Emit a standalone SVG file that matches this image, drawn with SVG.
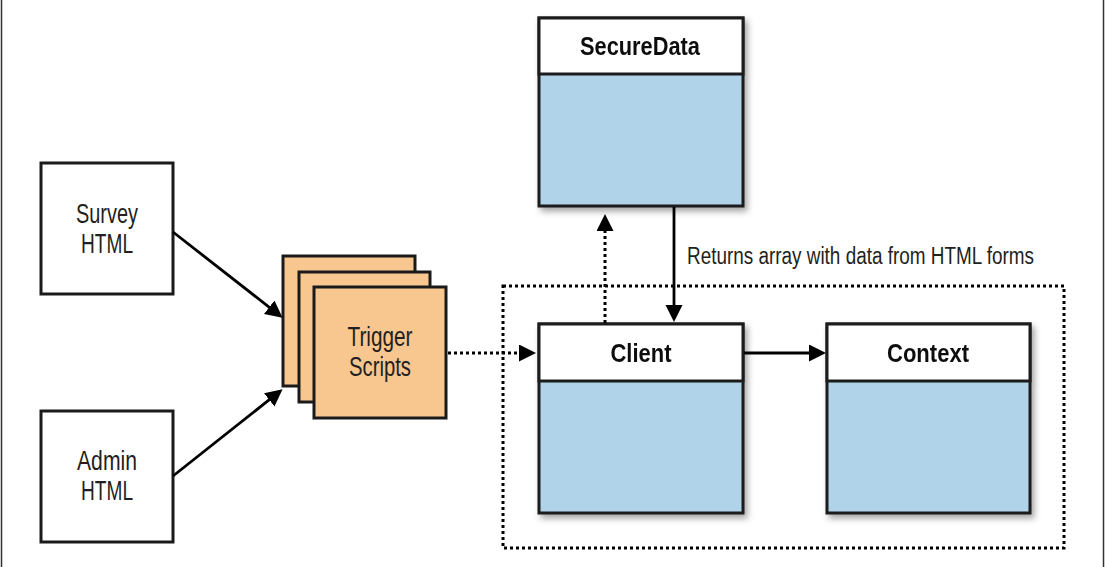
<svg xmlns="http://www.w3.org/2000/svg" width="1107" height="567" viewBox="0 0 1107 567">
<style>
.box{stroke:#1a1a1a;stroke-width:3;}
.plain{fill:#ffffff;}
.orange{fill:#f8c78f;}
.blue{fill:#b0d3ea;}
.hdr{fill:#ffffff;}
.t{font-family:"Liberation Sans",Arial,sans-serif;font-size:27px;fill:#231f20;text-anchor:middle;}
.tb{font-family:"Liberation Sans",Arial,sans-serif;font-size:26px;font-weight:bold;fill:#111;text-anchor:middle;}
.lbl{font-family:"Liberation Sans",Arial,sans-serif;font-size:23px;fill:#231f20;}
.solid{stroke:#000;stroke-width:2.8;fill:none;}
.dot{stroke:#000;stroke-width:3;fill:none;stroke-dasharray:3 3;}
.frame{stroke:#333;stroke-width:1.5;}
</style>
<defs>
<marker id="arr" markerUnits="userSpaceOnUse" markerWidth="18" markerHeight="18" refX="1" refY="8.5" orient="auto">
<path d="M0,0 L17,8.5 L0,17 z" fill="#000"/>
</marker>
<filter id="sh" x="-10%" y="-10%" width="130%" height="130%">
<feDropShadow dx="3" dy="4" stdDeviation="3" flood-color="#000" flood-opacity="0.35"/>
</filter>
</defs>
<rect width="1107" height="567" fill="#ffffff"/>
<line class="frame" x1="1.5" y1="0" x2="1.5" y2="567"/>
<line class="frame" x1="1103.5" y1="0" x2="1103.5" y2="567"/>

<g id="container">
<rect class="dot" x="503" y="286" width="561" height="262"/>
</g>

<g id="survey">
<rect class="box plain" x="41" y="163" width="132" height="131"/>
<text class="t" x="107" y="223" textLength="62" lengthAdjust="spacingAndGlyphs">Survey</text>
<text class="t" x="107" y="253" textLength="52" lengthAdjust="spacingAndGlyphs">HTML</text>
</g>

<g id="admin">
<rect class="box plain" x="41" y="411" width="132" height="131"/>
<text class="t" x="107" y="470" textLength="60" lengthAdjust="spacingAndGlyphs">Admin</text>
<text class="t" x="107" y="500" textLength="52" lengthAdjust="spacingAndGlyphs">HTML</text>
</g>

<g id="trigger">
<rect class="box orange" x="283" y="256" width="132" height="130"/>
<rect class="box orange" x="299" y="272" width="131" height="130"/>
<rect class="box orange" x="314" y="287" width="132" height="131"/>
<text class="t" x="380" y="346" textLength="65" lengthAdjust="spacingAndGlyphs">Trigger</text>
<text class="t" x="380" y="376" textLength="62" lengthAdjust="spacingAndGlyphs">Scripts</text>
</g>

<g id="securedata" filter="url(#sh)">
<rect class="box blue" x="539" y="18" width="204" height="188"/>
<rect class="box hdr" x="539" y="18" width="204" height="56"/>
<text class="tb" x="640" y="55" textLength="120" lengthAdjust="spacingAndGlyphs">SecureData</text>
</g>

<g id="client" filter="url(#sh)">
<rect class="box blue" x="539" y="324" width="204" height="189"/>
<rect class="box hdr" x="539" y="324" width="204" height="57"/>
<text class="tb" x="641" y="362" textLength="61" lengthAdjust="spacingAndGlyphs">Client</text>
</g>

<g id="context" filter="url(#sh)">
<rect class="box blue" x="827" y="324" width="203" height="189"/>
<rect class="box hdr" x="827" y="324" width="203" height="57"/>
<text class="tb" x="928" y="362" textLength="82" lengthAdjust="spacingAndGlyphs">Context</text>
</g>

<g id="connectors">
<line class="solid" x1="173" y1="232" x2="270" y2="307.8" marker-end="url(#arr)"/>
<line class="solid" x1="173" y1="476" x2="270" y2="399.2" marker-end="url(#arr)"/>
<line class="dot" x1="448" y1="353" x2="520" y2="353" marker-end="url(#arr)"/>
<line class="dot" x1="605" y1="323" x2="605" y2="230" marker-end="url(#arr)"/>
<line class="solid" x1="674" y1="207" x2="674" y2="306" marker-end="url(#arr)"/>
<line class="solid" x1="744" y1="353" x2="810" y2="353" marker-end="url(#arr)"/>
<text class="lbl" x="687" y="264" textLength="347" lengthAdjust="spacingAndGlyphs">Returns array with data from HTML forms</text>
</g>
</svg>
